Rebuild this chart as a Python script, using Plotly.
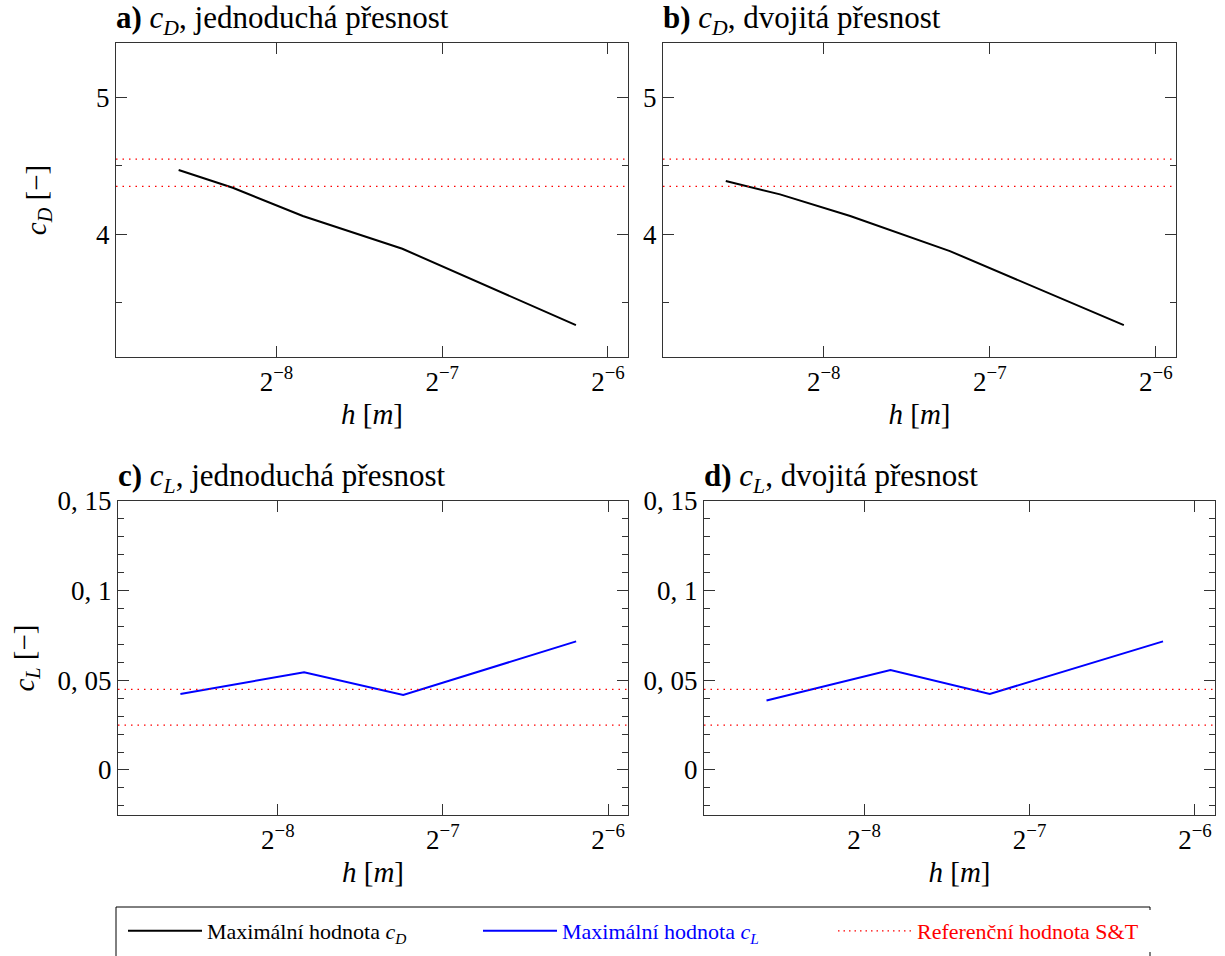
import math
import plotly.graph_objects as go

# ---------------- data ----------------
h_cd = [0.002595, 0.003254, 0.004362, 0.006613, 0.013667]
h_cl = [0.002595, 0.004362, 0.006613, 0.013667]
cd_single = [4.47, 4.34, 4.134, 3.895, 3.338]
cd_double = [4.389, 4.292, 4.134, 3.878, 3.338]
cl_single = [0.0424, 0.0545, 0.0418, 0.0717]
cl_double = [0.0387, 0.0558, 0.0424, 0.0717]
cd_ref = [4.35, 4.55]
cl_ref = [0.025, 0.045]
x_tick_vals = [2 ** -8, 2 ** -7, 2 ** -6]
x_tick_text = ["2<sup>−8</sup>", "2<sup>−7</sup>", "2<sup>−6</sup>"]
cd_tick_vals = [4, 5]
cd_tick_text = ["4", "5"]
cl_tick_vals = [0, 0.05, 0.1, 0.15]
cl_tick_text = ["0", "0, 05", "0, 1", "0, 15"]
titles = [
    "<b>a)</b> <i>c<sub>D</sub></i>, jednoduchá přesnost",
    "<b>b)</b> <i>c<sub>D</sub></i>, dvojitá přesnost",
    "<b>c)</b> <i>c<sub>L</sub></i>, jednoduchá přesnost",
    "<b>d)</b> <i>c<sub>L</sub></i>, dvojitá přesnost",
]
legend_names = [
    "Maximální hodnota <i>c<sub>D</sub></i>",
    "<span style='color:#0000ff'>Maximální hodnota <i>c<sub>L</sub></i></span>",
    "<span style='color:#ff0000'>Referenční hodnota S&T</span>",
]

# ---------------- layout geometry ----------------
W, H = 1225, 956
FONT = "'Liberation Serif', 'DejaVu Serif', serif"
x_range = [-8.968 * math.log10(2), -5.879 * math.log10(2)]
cd_range = [3.105, 5.397]
cl_range = [-0.0251, 0.15]

def px_dom_x(a, b):
    return [a / W, b / W]

def px_dom_y(top, bottom):
    return [1 - bottom / H, 1 - top / H]

panels = [
    dict(xd=px_dom_x(116, 628), yd=px_dom_y(43, 357)),
    dict(xd=px_dom_x(663, 1176), yd=px_dom_y(43, 357)),
    dict(xd=px_dom_x(118, 628), yd=px_dom_y(501, 815)),
    dict(xd=px_dom_x(704, 1215), yd=px_dom_y(501, 815)),
]

fig = go.Figure()

series = [
    (h_cd, cd_single, "#000000", 0),
    (h_cd, cd_double, "#000000", 1),
    (h_cl, cl_single, "#0000ff", 2),
    (h_cl, cl_double, "#0000ff", 3),
]
for i, (xs, ys, col, p) in enumerate(series):
    suffix = "" if p == 0 else str(p + 1)
    fig.add_trace(go.Scatter(
        x=xs, y=ys, mode="lines", line=dict(color=col, width=2),
        xaxis="x" + suffix, yaxis="y" + suffix,
        showlegend=(i in (0, 2)),
        name=legend_names[0] if i == 0 else legend_names[1],
    ))

# legend-only entry for reference lines
fig.add_trace(go.Scatter(
    x=[None], y=[None], mode="lines",
    line=dict(color="#ff0000", width=1.2, dash="1.5px,4px"),
    name=legend_names[2], showlegend=True,
))

# reference lines as shapes
for p in range(4):
    suffix = "" if p == 0 else str(p + 1)
    refs = cd_ref if p < 2 else cl_ref
    for v in refs:
        fig.add_shape(type="line", xref="x" + suffix + " domain", yref="y" + suffix,
                      x0=0, x1=1, y0=v, y1=v,
                      line=dict(color="#ff0000", width=1.3, dash="1.5px,5px"))

# legend frame (extends past the bottom edge as in the reference)
fig.add_shape(type="rect", xref="paper", yref="paper",
              x0=116 / W, x1=1150 / W, y0=-0.05, y1=(H - 907) / H,
              line=dict(color="#000", width=1), fillcolor="rgba(0,0,0,0)")

axis_font = dict(family=FONT, size=27, color="#000")
title_font = dict(family=FONT, size=29, color="#000")
for p, pan in enumerate(panels):
    suffix = "" if p == 0 else str(p + 1)
    xa = dict(
        domain=pan["xd"], anchor="y" + suffix, type="log", range=x_range,
        tickvals=x_tick_vals, ticktext=x_tick_text, ticks="inside", ticklen=11,
        tickcolor="#333", tickwidth=1.2, showline=True, linecolor="#333", linewidth=1.3,
        mirror="ticks", showgrid=False, zeroline=False, tickfont=axis_font,
        automargin=False,
        title=dict(text="<i>h</i> [<i>m</i>]", font=title_font, standoff=8),
    )
    if p < 2:
        ya = dict(range=cd_range, tickvals=cd_tick_vals, ticktext=cd_tick_text,
                  minor=dict(tickvals=[3.5, 4.5], ticks="inside", ticklen=6,
                             tickcolor="#333", tickwidth=1.2, showgrid=False))
    else:
        ya = dict(range=cl_range, tickvals=cl_tick_vals, ticktext=cl_tick_text,
                  minor=dict(dtick=0.01, ticks="inside", ticklen=6,
                             tickcolor="#333", tickwidth=1.2, showgrid=False))
    ya.update(domain=pan["yd"], anchor="x" + suffix, ticks="inside", ticklen=11,
              tickcolor="#333", tickwidth=1.2, showline=True, linecolor="#333",
              linewidth=1.3, mirror="ticks", showgrid=False, zeroline=False,
              tickfont=axis_font, automargin=False)
    if p == 0:
        ya["title"] = dict(text="<i>c<sub>D</sub></i> [−]", font=title_font, standoff=40)
    if p == 2:
        ya["title"] = dict(text="<i>c<sub>L</sub></i> [−]", font=title_font, standoff=14)
    fig.layout["xaxis" + suffix] = xa
    fig.layout["yaxis" + suffix] = ya
    fig.add_annotation(text=titles[p], xref="x" + suffix + " domain",
                       yref="y" + suffix + " domain", x=0, y=1,
                       xanchor="left", yanchor="bottom", showarrow=False,
                       xshift=-2, yshift=1,
                       font=dict(family=FONT, size=31, color="#000"))

fig.update_layout(
    width=W, height=H, autosize=False,
    margin=dict(l=0, r=0, t=0, b=0, autoexpand=False),
    plot_bgcolor="white", paper_bgcolor="white",
    font=dict(family=FONT, size=22, color="#000"),
    legend=dict(orientation="h", x=123 / W, xanchor="left",
                y=(H - 910) / H, yanchor="top",
                borderwidth=0,
                entrywidth=266, entrywidthmode="pixels",
                itemwidth=74,
                font=dict(family=FONT, size=22, color="#000"),
                tracegroupgap=0),
)

fig.write_html("out.html")
